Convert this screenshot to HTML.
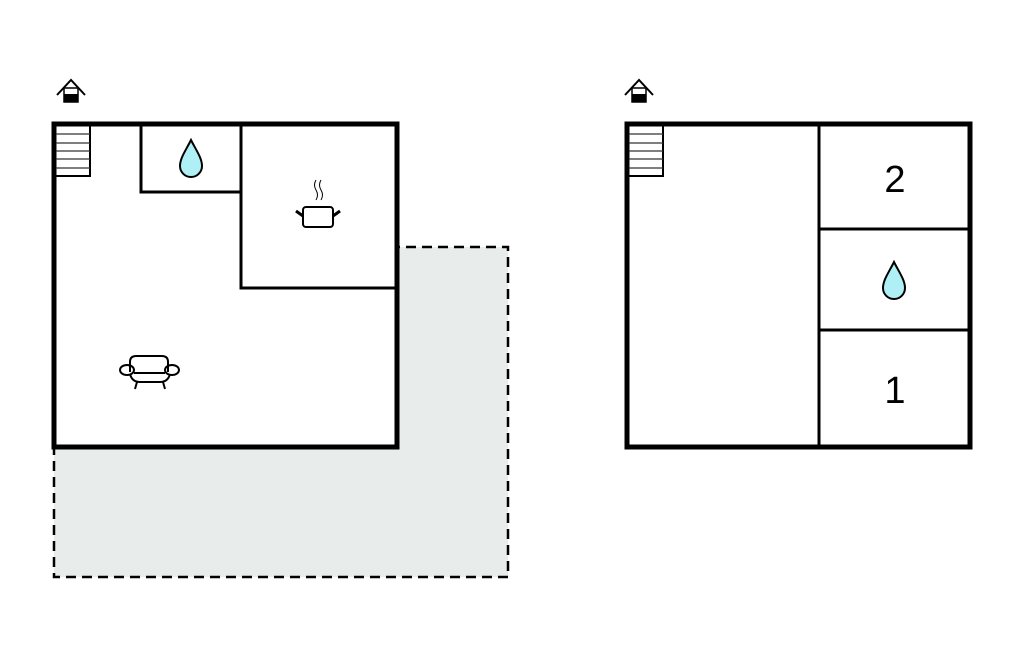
<!DOCTYPE html>
<html><head><style>body{margin:0;background:#fff}svg{display:block}</style></head><body>
<svg width="1024" height="652" viewBox="0 0 1024 652" xmlns="http://www.w3.org/2000/svg">
<rect x="54" y="247" width="454" height="330" fill="#e8eceb" stroke="#000" stroke-width="2.5" stroke-dasharray="10,6"/>
<rect x="54" y="124" width="343" height="323" fill="#fff"/>
<g fill="none" stroke="#000">
<rect x="54" y="124" width="343" height="323" stroke-width="5"/>
<polyline points="141,124 141,192 241,192" stroke-width="3"/>
<polyline points="241,124 241,288 397,288" stroke-width="3"/>
<rect x="54" y="124" width="36" height="52" stroke-width="2"/>
<g stroke-width="1.2" stroke="#333"><line x1="56" y1="134" x2="90" y2="134"/><line x1="56" y1="143" x2="90" y2="143"/><line x1="56" y1="151" x2="90" y2="151"/><line x1="56" y1="159" x2="90" y2="159"/><line x1="56" y1="168" x2="90" y2="168"/></g>
<rect x="627" y="124" width="343" height="323" stroke-width="5"/>
<line x1="819" y1="124" x2="819" y2="447" stroke-width="3"/>
<line x1="819" y1="229" x2="970" y2="229" stroke-width="3"/>
<line x1="819" y1="330" x2="970" y2="330" stroke-width="3"/>
<rect x="627" y="124" width="36" height="52" stroke-width="2"/>
<g stroke-width="1.2" stroke="#333"><line x1="629" y1="134" x2="663" y2="134"/><line x1="629" y1="143" x2="663" y2="143"/><line x1="629" y1="151" x2="663" y2="151"/><line x1="629" y1="159" x2="663" y2="159"/><line x1="629" y1="168" x2="663" y2="168"/></g>
<polyline points="57,95 71,80 85,95" stroke-width="2"/>
<polyline points="625,95 639,80 653,95" stroke-width="2"/>
<rect x="64" y="88" width="14" height="14" stroke-width="1.5"/>
<rect x="632" y="88" width="14" height="14" stroke-width="1.5"/>
<rect x="303" y="207" width="30" height="20" rx="3" stroke-width="2"/>
<line x1="296" y1="211" x2="303" y2="216" stroke-width="3"/>
<line x1="340" y1="211" x2="333" y2="216" stroke-width="3"/>
<path d="M316,180 q-3,5 0,10 q3,5 0,10 M321,180 q-3,5 0,10 q3,5 0,10" stroke-width="1"/>
<path d="M130,372 v-10 q0,-6 6,-6 h26 q6,0 6,6 v10" stroke-width="2"/>
<ellipse cx="127" cy="370" rx="7" ry="5" stroke-width="2"/>
<ellipse cx="172" cy="370" rx="7" ry="5" stroke-width="2"/>
<path d="M130,374 q2,8 10,8 h20 q8,0 10,-8 M134,373 h31" stroke-width="2"/>
<line x1="137" y1="382" x2="135" y2="389" stroke-width="2"/>
<line x1="163" y1="382" x2="165" y2="389" stroke-width="2"/>
</g>
<rect x="64" y="94" width="14" height="8" fill="#000"/>
<rect x="632" y="94" width="14" height="8" fill="#000"/>
<g fill="#aef0f5" stroke="#000" stroke-width="2">
<path d="M191,140 C186,150 180,158 180,166 a11,11 0 0 0 22,0 C202,158 196,150 191,140 Z"/>
<path d="M894,262 C889,272 883,280 883,288 a11,11 0 0 0 22,0 C905,280 899,272 894,262 Z"/>
</g>
<g font-family="Liberation Sans, sans-serif" font-size="38" text-anchor="middle" fill="#000">
<text x="895" y="192">2</text>
<text x="895" y="403">1</text>
</g>
</svg>
</body></html>
